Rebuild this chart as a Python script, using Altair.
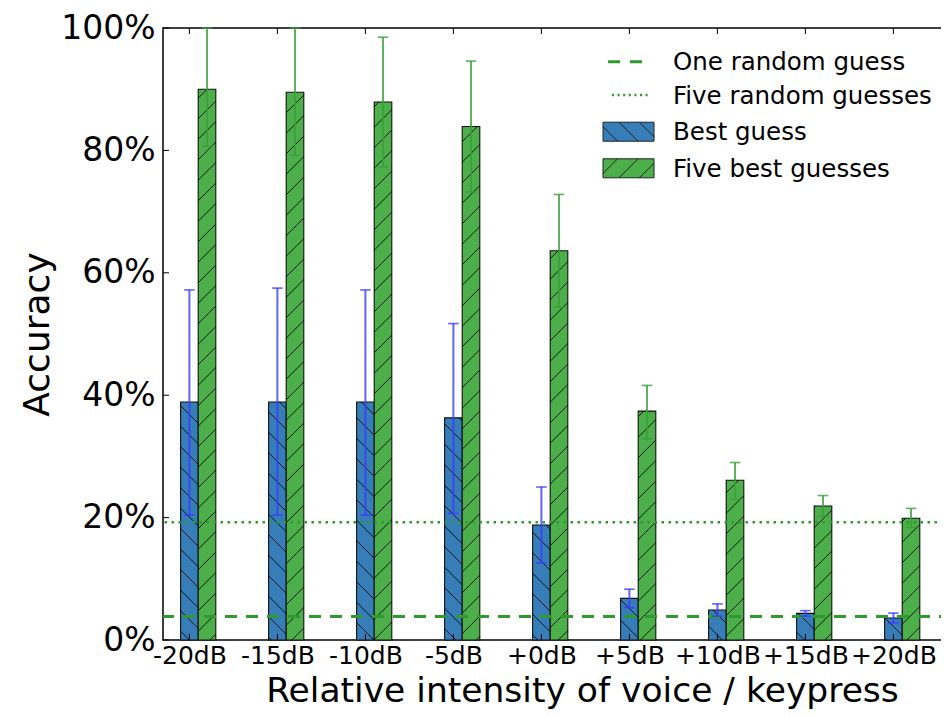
import json
import altair as alt
import pandas as pd

# ---------------- data ----------------
categories = ["-20dB", "-15dB", "-10dB", "-5dB", "+0dB", "+5dB", "+10dB", "+15dB", "+20dB"]
best_guess = [38.9, 38.9, 38.9, 36.3, 18.8, 6.8, 4.9, 4.35, 3.6]
best_lo = [20.4, 20.4, 20.4, 20.7, 12.6, 5.3, 3.9, 3.9, 2.8]
best_hi = [57.2, 57.5, 57.2, 51.7, 25.0, 8.3, 5.9, 4.8, 4.4]
five_best = [90.0, 89.5, 87.9, 83.9, 63.6, 37.4, 26.1, 21.9, 19.9]
five_lo = [80.7, 79.2, 77.3, 73.2, 54.4, 32.9, 23.0, 20.2, 18.4]
five_hi = [100.0, 100.0, 98.5, 94.6, 72.8, 41.6, 29.0, 23.6, 21.5]
one_random = 3.85
five_random = 19.23
y_tick_values = [0, 20, 40, 60, 80, 100]
legend_labels = ["One random guess", "Five random guesses", "Best guess", "Five best guesses"]
series_names = ["Best guess", "Five best guesses"]

# ---------------- styles / layout ----------------
BLUE = "#377eb8"
GREEN = "#4daf4a"
LINE_GREEN = "#2f9a2f"
PX_PER_UNIT = 88.0
W, H = 788, 612
XMIN = -0.3
XMAX = XMIN + W / PX_PER_UNIT
BAR_W = 0.2
PX_X = W / (XMAX - XMIN)
PX_Y = H / 100.0
FONT = "DejaVu Sans"

xscale = alt.Scale(domain=[XMIN, XMAX], nice=False, zero=False)
yscale = alt.Scale(domain=[0, 100], nice=False, zero=True)

rows = []
for i, c in enumerate(categories):
    rows.append(dict(cat=c, series=series_names[0], x0=i - BAR_W / 2, x1=i + BAR_W / 2, xc=i,
                     v=best_guess[i], lo=best_lo[i], hi=best_hi[i], base=0))
    rows.append(dict(cat=c, series=series_names[1], x0=i + BAR_W / 2, x1=i + 1.5 * BAR_W,
                     xc=i + BAR_W, v=five_best[i], lo=five_lo[i], hi=five_hi[i], base=0))
bars_df = pd.DataFrame(rows)
CAP = 0.06
bars_df["c0"] = bars_df["xc"] - CAP
bars_df["c1"] = bars_df["xc"] + CAP

# hatch segments derived from each bar (45 degrees on screen)
rise = BAR_W * PX_X / PX_Y
spacing = 20.5 / PX_Y
slope = rise / BAR_W
hatch_rows = []
for r in rows:
    xl, top = r["x0"], r["v"]
    forward = r["series"] == series_names[1]
    if forward:
        phase = (xl * slope) % spacing
    else:
        phase = (-(xl + BAR_W) * slope) % spacing
    y0 = phase - 3 * spacing
    while y0 < top:
        tmin = max(0.0, (0 - y0) / rise)
        tmax = min(1.0, (top - y0) / rise)
        if tmax > tmin:
            if forward:
                xa, xb = xl + tmin * BAR_W, xl + tmax * BAR_W
            else:
                xa, xb = xl + BAR_W - tmin * BAR_W, xl + BAR_W - tmax * BAR_W
            hatch_rows.append(dict(hx=xa, hx2=xb, hy=y0 + tmin * rise, hy2=y0 + tmax * rise))
        y0 += spacing
hatch_df = pd.DataFrame(hatch_rows)

label_expr = json.dumps(categories) + "[datum.value]"

x_axis = alt.Axis(values=list(range(len(categories))), labelExpr=label_expr, ticks=False,
                  domain=False, grid=False, labelFontSize=25, labelFont=FONT, labelColor="black",
                  labelPadding=3, labelFlush=False, labelOverlap=False,
                  title="Relative intensity of voice / keypress", titleFontSize=34.5, titleFont=FONT,
                  titleFontWeight="normal", titleColor="black", titleX=419, titleY=61,
                  titleAlign="center", titleBaseline="alphabetic")
y_axis = alt.Axis(values=y_tick_values, labelExpr="datum.value + '%'", ticks=False,
                  domain=False, grid=False, labelFontSize=33, labelFont=FONT, labelColor="black",
                  labelPadding=8, labelFlush=False, title="Accuracy", titleFontSize=36, titleFont=FONT,
                  titleFontWeight="normal", titleColor="black", titleX=-115, titleY=H / 2,
                  titleAlign="center", titleBaseline="alphabetic", titleAngle=270)

fill_scale = alt.Scale(domain=series_names, range=[BLUE, GREEN])

bars = alt.Chart(bars_df).mark_rect(stroke="#111", strokeWidth=1.1).encode(
    x=alt.X("x0:Q", scale=xscale, axis=x_axis),
    x2="x1:Q",
    y=alt.Y("v:Q", scale=yscale, axis=y_axis),
    y2="base:Q",
    fill=alt.Fill("series:N", scale=fill_scale, legend=None),
)

hatch = alt.Chart(hatch_df).mark_rule(color="black", strokeWidth=1, opacity=0.85).encode(
    x=alt.X("hx:Q", scale=xscale), x2="hx2:Q",
    y=alt.Y("hy:Q", scale=yscale), y2="hy2:Q",
)

ref_df = pd.DataFrame({"r": [one_random], "s": [five_random]})
dashed = alt.Chart(ref_df).mark_rule(color=LINE_GREEN, strokeWidth=3, strokeDash=[12, 9]).encode(
    y=alt.Y("r:Q", scale=yscale))
dotted = alt.Chart(ref_df).mark_rule(color=LINE_GREEN, strokeWidth=2.5, strokeDash=[2.5, 4.5]).encode(
    y=alt.Y("s:Q", scale=yscale))

err_color = alt.Color("series:N", scale=alt.Scale(domain=series_names, range=["#3b3bff", "#3a9e3a"]),
                      legend=None)
err_v = alt.Chart(bars_df).mark_rule(strokeWidth=2, opacity=0.8).encode(
    x=alt.X("xc:Q", scale=xscale),
    y=alt.Y("lo:Q", scale=yscale), y2="hi:Q", color=err_color)
err_cap_hi = alt.Chart(bars_df).mark_rule(strokeWidth=1.6, opacity=0.8).encode(
    x=alt.X("c0:Q", scale=xscale), x2="c1:Q",
    y=alt.Y("hi:Q", scale=yscale), color=err_color)
err_cap_lo = alt.Chart(bars_df).mark_rule(strokeWidth=1.6, opacity=0.8).encode(
    x=alt.X("c0:Q", scale=xscale), x2="c1:Q",
    y=alt.Y("lo:Q", scale=yscale), color=err_color)

# inward ticks on all four sides
yt_df = pd.DataFrame({"t": y_tick_values})
xt_df = pd.DataFrame({"t": list(range(len(categories)))})
TL = 6
yt_left = alt.Chart(yt_df).mark_rule(color="black", strokeWidth=1).encode(
    y=alt.Y("t:Q", scale=yscale), x=alt.value(0), x2=alt.value(TL))
yt_right = alt.Chart(yt_df).mark_rule(color="black", strokeWidth=1).encode(
    y=alt.Y("t:Q", scale=yscale), x=alt.value(W - TL), x2=alt.value(W))
xt_top = alt.Chart(xt_df).mark_rule(color="black", strokeWidth=1).encode(
    x=alt.X("t:Q", scale=xscale), y=alt.value(0), y2=alt.value(TL))
xt_bot = alt.Chart(xt_df).mark_rule(color="black", strokeWidth=1).encode(
    x=alt.X("t:Q", scale=xscale), y=alt.value(H - TL), y2=alt.value(H))

# ---------------- legend (drawn manually) ----------------
PH = 19 / 51.0


def patch_path(forward):
    p = "M-1,%.3fH1V%.3fH-1Z" % (-PH, PH)
    for c in (-0.8, 0.0, 0.8):
        xa, xb = c - PH, c + PH
        if forward:
            ya, yb = PH, -PH
        else:
            ya, yb = -PH, PH
        if xa < -1:
            t = (-1 - xa) / (xb - xa)
            ya = ya + t * (yb - ya)
            xa = -1
        if xb > 1:
            t = (1 - xa) / (xb - xa)
            yb = ya + t * (yb - ya)
            xb = 1
        p += "M%.3f,%.3fL%.3f,%.3f" % (xa, ya, xb, yb)
    return p


dash_path = "M-0.80,0H-0.33M0.06,0H0.53"
dot_path = "".join("M%.3f,0H%.3f" % (-0.65 + k * 0.22, -0.65 + k * 0.22 + 0.08) for k in range(7))
LEG_SYM_X = 465.5
LEG_TXT_X = 510
LEG_ROWS = [33.7, 67.0, 103.7, 140.3]

legend_layers = []
for k, lab in enumerate(legend_labels):
    d = pd.DataFrame({"label": [lab]})
    if k == 0:
        sym = alt.Chart(d).mark_point(shape=dash_path, filled=False, size=51 * 51, stroke=LINE_GREEN,
                                      strokeWidth=3, opacity=1)
        sym = sym.encode(x=alt.value(LEG_SYM_X), y=alt.value(LEG_ROWS[k]))
    elif k == 1:
        sym = alt.Chart(d).mark_point(shape=dot_path, filled=False, size=51 * 51, stroke=LINE_GREEN,
                                      strokeWidth=2.5, opacity=1)
        sym = sym.encode(x=alt.value(LEG_SYM_X), y=alt.value(LEG_ROWS[k]))
    else:
        sym = alt.Chart(d).mark_point(shape=patch_path(k == 3), filled=True, size=51 * 51, stroke="#222",
                                      strokeWidth=1, opacity=1)
        sym = sym.encode(x=alt.value(LEG_SYM_X), y=alt.value(LEG_ROWS[k]),
                         fill=alt.Fill("label:N", scale=fill_scale, legend=None))
    txt = alt.Chart(d).mark_text(align="left", baseline="middle", fontSize=24.5, font=FONT,
                                 color="black", dy=1.5).encode(
        x=alt.value(LEG_TXT_X), y=alt.value(LEG_ROWS[k]), text="label:N")
    legend_layers += [sym, txt]

chart = alt.layer(bars, hatch, dashed, dotted, err_v, err_cap_hi, err_cap_lo,
                  yt_left, yt_right, xt_top, xt_bot, *legend_layers).properties(
    width=W, height=H,
    autosize=alt.AutoSizeParams(type="none"),
    padding={"left": 155, "top": 20, "right": -10, "bottom": 69},
).configure(
    font=FONT, background="white"
).configure_view(
    stroke="black", strokeWidth=1.5
)

chart.save("out.html", embed_options={"renderer": "svg", "actions": False})
